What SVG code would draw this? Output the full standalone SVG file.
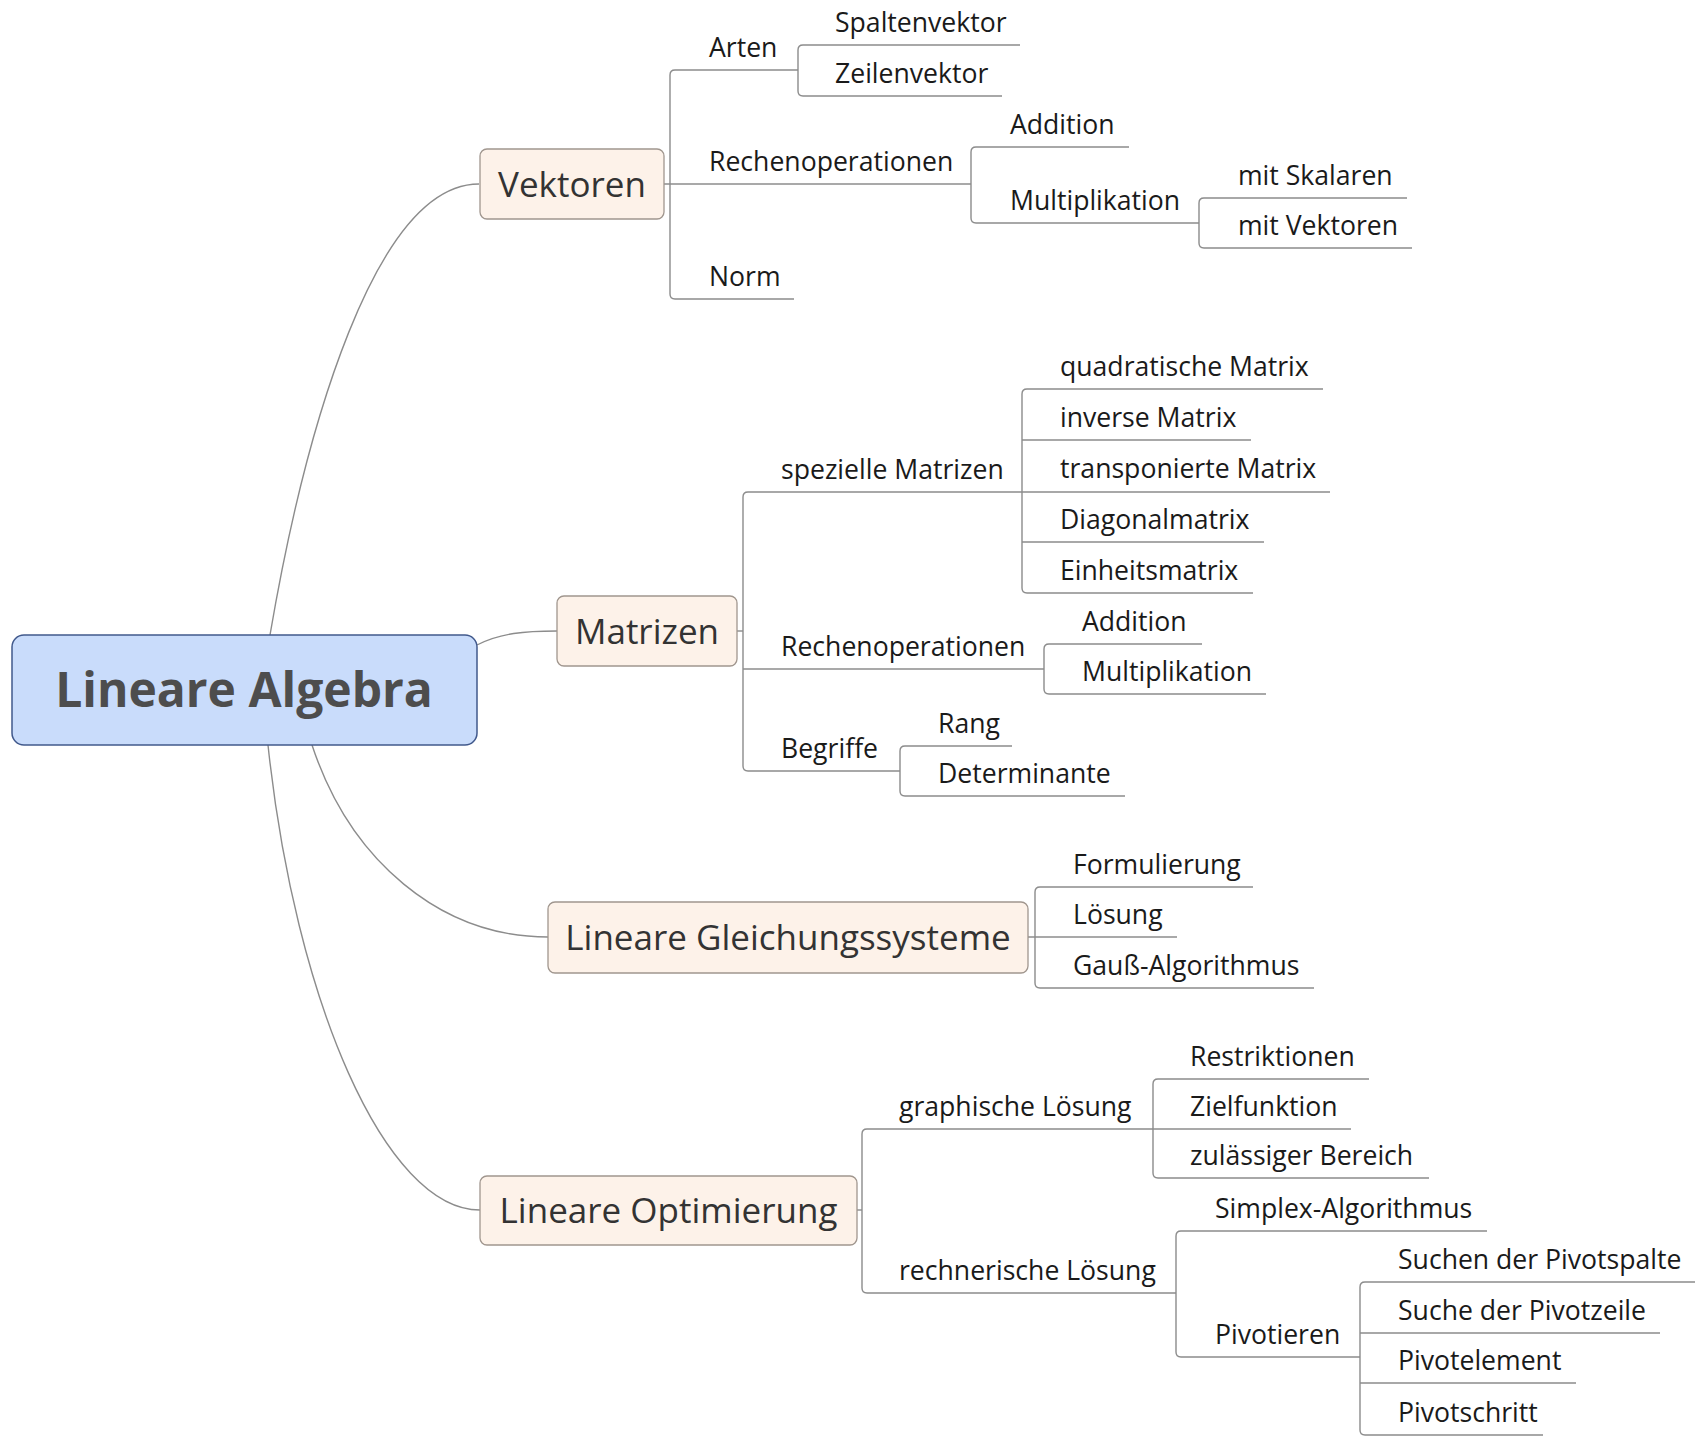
<svg xmlns="http://www.w3.org/2000/svg" width="1698" height="1439" viewBox="0 0 1698 1439">
<style>
text{font-family:"Open Sans","Noto Sans",sans-serif}
.root{fill:#c9dcfb;stroke:#41598c;stroke-width:1.5}
.rootT{font-size:48px;font-weight:bold;fill:#4d4d4d;text-anchor:middle}
.topic{fill:#fdf2e9;stroke:#a0968e;stroke-width:1.3}
.topT{font-size:35px;fill:#333;text-anchor:middle}
.sub{font-size:26.6px;fill:#1a1a1a}
.ln{fill:none;stroke:#8c8c8c;stroke-width:1.4}
</style>
<rect width="1698" height="1439" fill="#fff"/>
<g id="connectors" class="ln">
<path d="M270,635 C305,430 375,184 479,184"/>
<path d="M477,645 C500,633 525,631 557,631"/>
<path d="M312,745 C350,860 440,937 548,937"/>
<path d="M268,745 C295,1000 385,1210 480,1210"/>
<path d="M664,184 H971"/>
<path d="M798,70 H675 Q670,70 670,75 V294 Q670,299 675,299 H794"/>
<path d="M1020,45 H803 Q798,45 798,50 V91 Q798,96 803,96 H1002"/>
<path d="M1129,147 H976 Q971,147 971,152 V218 Q971,223 976,223 H1199"/>
<path d="M1407,198 H1204 Q1199,198 1199,203 V243 Q1199,248 1204,248 H1412"/>
<path d="M736,631 H743"/>
<path d="M1022,492 H748 Q743,492 743,497 V766 Q743,771 748,771 H900"/>
<path d="M743,669 H1044"/>
<path d="M1323,389 H1027 Q1022,389 1022,394 V588 Q1022,593 1027,593 H1253"/>
<path d="M1022,440 H1251 M1022,492 H1330 M1022,542 H1264"/>
<path d="M1202,644 H1049 Q1044,644 1044,649 V689 Q1044,694 1049,694 H1266"/>
<path d="M1012,746 H905 Q900,746 900,751 V791 Q900,796 905,796 H1125"/>
<path d="M1028,937 H1177"/>
<path d="M1253,887 H1040 Q1035,887 1035,892 V983 Q1035,988 1040,988 H1314"/>
<path d="M857,1210 H862"/>
<path d="M1153,1129 H867 Q862,1129 862,1134 V1288 Q862,1293 867,1293 H1176"/>
<path d="M1369,1079 H1158 Q1153,1079 1153,1084 V1173 Q1153,1178 1158,1178 H1429"/>
<path d="M1153,1129 H1351"/>
<path d="M1487,1231 H1181 Q1176,1231 1176,1236 V1352 Q1176,1357 1181,1357 H1360"/>
<path d="M1695,1282 H1365 Q1360,1282 1360,1287 V1430 Q1360,1435 1365,1435 H1543"/>
<path d="M1360,1333 H1660 M1360,1383 H1576"/>
</g>
<g id="root">
<rect class="root" x="12" y="635" width="465" height="110" rx="12"/>
<text class="rootT" x="244" y="707">Lineare Algebra</text>
</g>
<g id="vektoren">
<rect class="topic" x="480" y="149" width="184" height="70" rx="7"/>
<text class="topT" x="572" y="197">Vektoren</text>
</g>
<g id="v-arten"><text class="sub" x="709" y="57">Arten</text></g>
<g id="v-spalten"><text class="sub" x="835" y="32">Spaltenvektor</text></g>
<g id="v-zeilen"><text class="sub" x="835" y="83">Zeilenvektor</text></g>
<g id="v-rechen"><text class="sub" x="709" y="171">Rechenoperationen</text></g>
<g id="v-add"><text class="sub" x="1010" y="134">Addition</text></g>
<g id="v-mult"><text class="sub" x="1010" y="210">Multiplikation</text></g>
<g id="v-skal"><text class="sub" x="1238" y="185">mit Skalaren</text></g>
<g id="v-vekt"><text class="sub" x="1238" y="235">mit Vektoren</text></g>
<g id="v-norm"><text class="sub" x="709" y="286">Norm</text></g>
<g id="matrizen">
<rect class="topic" x="557" y="596" width="180" height="70" rx="7"/>
<text class="topT" x="647" y="644">Matrizen</text>
</g>
<g id="m-spez"><text class="sub" x="781" y="479">spezielle Matrizen</text></g>
<g id="m-quad"><text class="sub" x="1060" y="376">quadratische Matrix</text></g>
<g id="m-inv"><text class="sub" x="1060" y="427">inverse Matrix</text></g>
<g id="m-trans"><text class="sub" x="1060" y="478">transponierte Matrix</text></g>
<g id="m-diag"><text class="sub" x="1060" y="529">Diagonalmatrix</text></g>
<g id="m-einh"><text class="sub" x="1060" y="580">Einheitsmatrix</text></g>
<g id="m-rechen"><text class="sub" x="781" y="656">Rechenoperationen</text></g>
<g id="m-add"><text class="sub" x="1082" y="631">Addition</text></g>
<g id="m-mult"><text class="sub" x="1082" y="681">Multiplikation</text></g>
<g id="m-begr"><text class="sub" x="781" y="758">Begriffe</text></g>
<g id="m-rang"><text class="sub" x="938" y="733">Rang</text></g>
<g id="m-det"><text class="sub" x="938" y="783">Determinante</text></g>
<g id="lgs">
<rect class="topic" x="548" y="902" width="480" height="71" rx="7"/>
<text class="topT" x="788" y="950">Lineare Gleichungssysteme</text>
</g>
<g id="l-form"><text class="sub" x="1073" y="874">Formulierung</text></g>
<g id="l-loes"><text class="sub" x="1073" y="924">Lösung</text></g>
<g id="l-gauss"><text class="sub" x="1073" y="975">Gauß-Algorithmus</text></g>
<g id="lo">
<rect class="topic" x="480" y="1176" width="377" height="69" rx="7"/>
<text class="topT" x="668.5" y="1223">Lineare Optimierung</text>
</g>
<g id="o-graph"><text class="sub" x="899" y="1116">graphische Lösung</text></g>
<g id="o-restr"><text class="sub" x="1190" y="1066">Restriktionen</text></g>
<g id="o-ziel"><text class="sub" x="1190" y="1116">Zielfunktion</text></g>
<g id="o-zul"><text class="sub" x="1190" y="1165">zulässiger Bereich</text></g>
<g id="o-rechn"><text class="sub" x="899" y="1280">rechnerische Lösung</text></g>
<g id="o-simplex"><text class="sub" x="1215" y="1218">Simplex-Algorithmus</text></g>
<g id="o-pivot"><text class="sub" x="1215" y="1344">Pivotieren</text></g>
<g id="o-spalte"><text class="sub" x="1398" y="1269">Suchen der Pivotspalte</text></g>
<g id="o-zeile"><text class="sub" x="1398" y="1320">Suche der Pivotzeile</text></g>
<g id="o-elem"><text class="sub" x="1398" y="1370">Pivotelement</text></g>
<g id="o-schritt"><text class="sub" x="1398" y="1422">Pivotschritt</text></g>
</svg>
